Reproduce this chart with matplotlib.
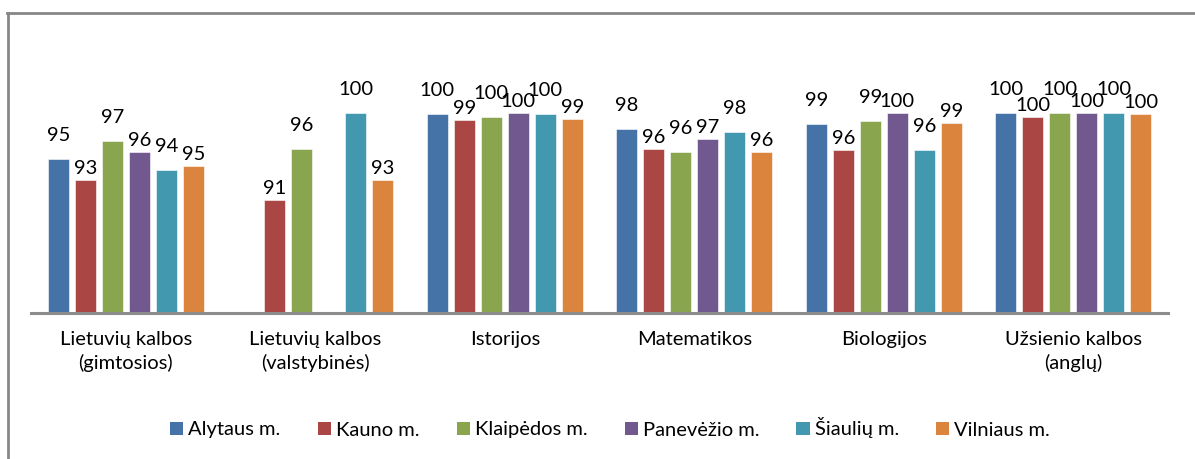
import numpy as np
import matplotlib
matplotlib.use("Agg")
import matplotlib.pyplot as plt
from matplotlib.lines import Line2D
from matplotlib.patches import Patch

plt.rcParams['font.family'] = ['Lato', 'DejaVu Sans']

# subjects (x categories)
subjects = ['Lietuvių kalbos\n(gimtosios)', 'Lietuvių kalbos\n(valstybinės)',
            'Istorijos', 'Matematikos', 'Biologijos', 'Užsienio kalbos\n(anglų)']

# cities (series)
cities = ['Alytaus m.', 'Kauno m.', 'Klaipėdos m.', 'Panevėžio m.',
          'Šiaulių m.', 'Vilniaus m.']

# values, one list per city (nan = no bar)
alytaus = [95.4, np.nan, 99.9, 98.4, 98.9, 100.0]
kauno = [93.3, 91.3, 99.3, 96.4, 96.3, 99.6]
klaipedos = [97.2, 96.4, 99.6, 96.1, 99.2, 100.0]
panevezio = [96.1, np.nan, 100.0, 97.4, 100.0, 100.0]
siauliu = [94.3, 100.0, 99.9, 98.1, 96.3, 100.0]
vilniaus = [94.7, 93.3, 99.4, 96.1, 99.0, 99.9]

series = [alytaus, kauno, klaipedos, panevezio, siauliu, vilniaus]
colors = ['#4572A7', '#AA4643', '#89A54E', '#71588F', '#4198AF', '#DB843D']

W, H = 1195, 459
fig = plt.figure(figsize=(W / 100, H / 100), dpi=100)

# chart border (only top and left edges are visible in the crop)
fig.add_artist(Line2D([7 / W, 1], [1 - 13 / H, 1 - 13 / H], transform=fig.transFigure,
                      color='#878787', lw=2))
fig.add_artist(Line2D([8 / W, 8 / W], [0, 1 - 13 / H], transform=fig.transFigure,
                      color='#878787', lw=2))

ax = fig.add_axes([31 / W, (H - 313) / H, 1137 / W, 200 / H])

x = np.arange(len(subjects))
step = 0.1425
width = 0.111
fs = 14.5

for i, (vals, col) in enumerate(zip(series, colors)):
    pos = x + (i - 2.5) * step
    vals = np.array(vals, dtype=float)
    ax.bar(pos, vals - 80, width=width, bottom=80, color=col,
           edgecolor='white', linewidth=0.4)
    # labels of neighbouring bars are staggered like in the original chart
    off = 11 if i % 2 == 0 else 2
    for p, v in zip(pos, vals):
        if np.isnan(v):
            continue
        ax.annotate(f'{v:.0f}', (p, v), xytext=(0, off), textcoords='offset points',
                    ha='center', va='bottom', fontsize=fs, color='black',
                    annotation_clip=False)

ax.set_xlim(-0.5, len(subjects) - 0.5)
ax.set_ylim(80, 100)
for s in ['top', 'right', 'left']:
    ax.spines[s].set_visible(False)
ax.spines['bottom'].set_color('#8c8c8c')
ax.spines['bottom'].set_linewidth(2.2)
ax.set_yticks([])
ax.set_xticks(x)
ax.set_xticklabels(subjects, fontsize=fs, linespacing=1.4)
ax.tick_params(axis='x', length=0, pad=13)

handles = [Patch(facecolor=c, edgecolor='none') for c in colors]
fig.legend(handles, cities, loc='center', bbox_to_anchor=(610 / W, 1 - 428 / H),
           ncol=6, frameon=False, fontsize=fs, handlelength=0.65, handleheight=0.65,
           handletextpad=0.25, columnspacing=1.85)

fig.savefig('out.png', dpi=100)
